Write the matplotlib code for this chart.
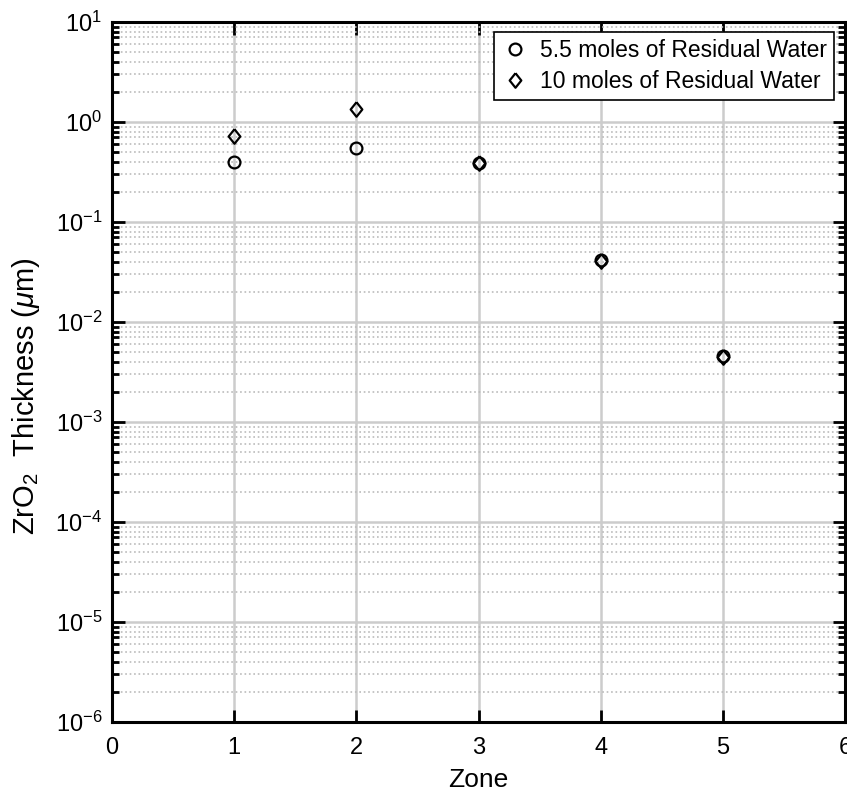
import numpy as np
import matplotlib
matplotlib.use('Agg')
import matplotlib.pyplot as plt
from matplotlib.ticker import LogLocator, LogFormatterSciNotation, NullFormatter

plt.rcParams['font.family'] = ['Liberation Sans', 'DejaVu Sans']
plt.rcParams['mathtext.fontset'] = 'custom'
plt.rcParams['mathtext.rm'] = 'Liberation Sans'
plt.rcParams['mathtext.it'] = 'Liberation Sans:italic'
plt.rcParams['mathtext.default'] = 'regular'

zones = [1, 2, 3, 4, 5]
water_5_5 = [0.40, 0.55, 0.39, 0.042, 0.0046]
water_10 = [0.72, 1.35, 0.39, 0.041, 0.0045]

# slightly wide diamond, like the one MATLAB draws
diamond = [(0, 1), (0.8, 0), (0, -1), (-0.8, 0), (0, 1)]

fig = plt.figure(figsize=(8.47, 7.96), dpi=100)
ax = fig.add_axes([0.1322, 0.093, 0.8656, 0.8794])

ax.plot(zones, water_5_5, 'o', mfc='none', mec='black', ms=8.5, mew=1.6,
        label='5.5 moles of Residual Water')
ax.plot(zones, water_10, marker=diamond, ls='none', mfc='none', mec='black',
        ms=10.5, mew=1.6, label='10 moles of Residual Water')

ax.set_yscale('log')
ax.set_xlim(0, 6)
ax.set_ylim(1e-6, 1e1)
ax.set_xticks(range(0, 7))
ax.yaxis.set_major_locator(LogLocator(base=10, numticks=20))
ax.yaxis.set_minor_locator(LogLocator(base=10, subs=np.arange(2, 10), numticks=20))
ax.yaxis.set_major_formatter(LogFormatterSciNotation())
ax.yaxis.set_minor_formatter(NullFormatter())

ax.grid(True, which='major', color='#cccccc', linestyle='-', linewidth=1.8)
ax.grid(True, which='minor', axis='y', color='#bbbbbb', linestyle=':', linewidth=1.2)
ax.set_axisbelow(True)

ax.tick_params(which='both', direction='in', top=True, right=True,
               labelsize=17, width=2)
ax.tick_params(which='major', length=9)
ax.tick_params(which='minor', length=5)
ax.tick_params(axis='x', pad=11)
ax.tick_params(axis='y', pad=7)
for s in ax.spines.values():
    s.set_linewidth(2.2)

ax.set_xlabel('Zone', fontsize=19, labelpad=6)
ax.set_ylabel(r'ZrO$_2$  Thickness ($\mathit{\mu}$m)', fontsize=21)
ax.yaxis.set_label_coords(-0.095, 0.466)

leg = ax.legend(loc='upper right', fontsize=16.5, fancybox=False,
                framealpha=1, edgecolor='black', handletextpad=0.5,
                borderpad=0.3, labelspacing=0.35, handlelength=1.2,
                borderaxespad=0, bbox_to_anchor=(0.985, 0.985))
leg.get_frame().set_linewidth(1.2)

fig.savefig('out.png', dpi=100)
